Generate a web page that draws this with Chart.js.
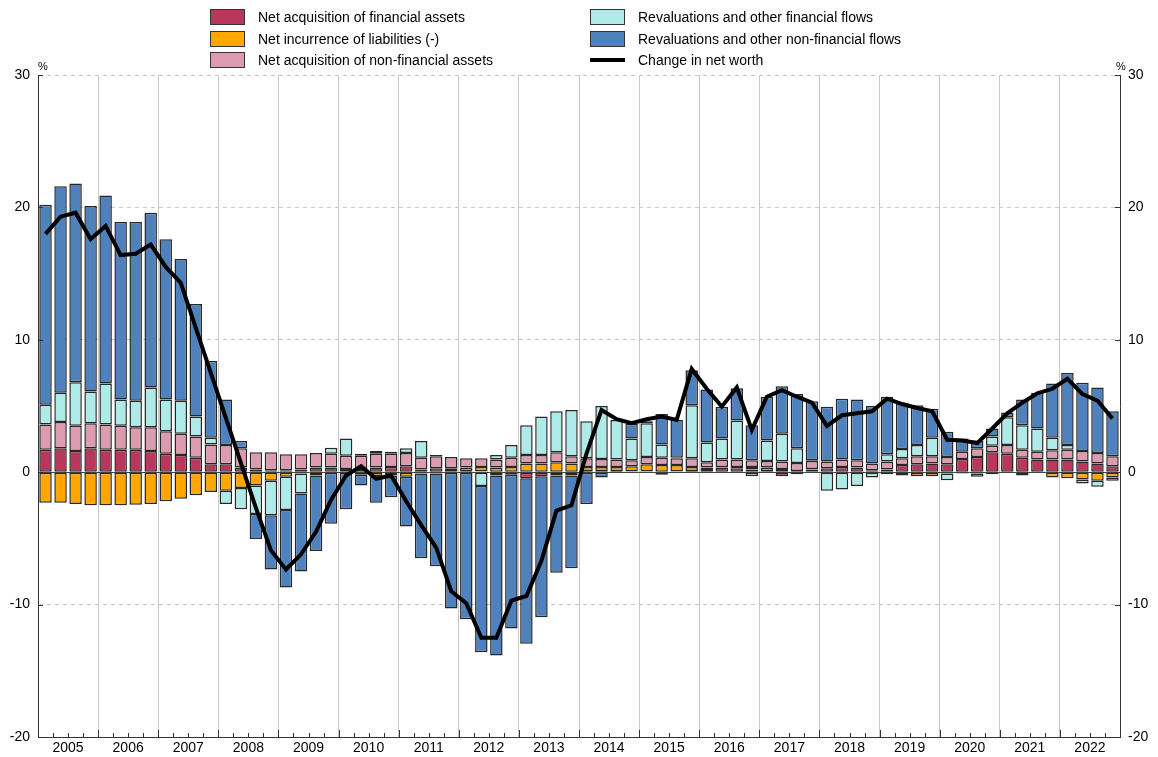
<!DOCTYPE html>
<html>
<head>
<meta charset="utf-8">
<script src="https://cdn.jsdelivr.net/npm/chart.js@4"></script>
<style>
  body { margin: 0; background: #fff; font-family: "Liberation Sans", Arial, sans-serif; }
  #wrap { position: relative; width: 1158px; height: 757px; }
  #legend .item { position: absolute; font-size: 14px; color: #000; white-space: nowrap; line-height: 16px; }
  #legend .sw { position: absolute; left: 0; width: 35px; box-sizing: border-box; }
  #legend .txt { position: absolute; left: 48px; top: 0; }
  .unit { position: absolute; top: 60px; font-size: 11px; color: #000; }
</style>
</head>
<body>
<div id="wrap">
  <canvas id="chart" width="1158" height="757"></canvas>
  <div id="legend"></div>
  <span class="unit" style="left:38px">%</span>
  <span class="unit" style="left:1116px">%</span>
</div>
<script>
const years = ['2005','2006','2007','2008','2009','2010','2011','2012','2013',
  '2014','2015','2016','2017','2018','2019','2020','2021','2022'];
const quarters = years.flatMap(y => ['Q1','Q2','Q3','Q4'].map(q => y + q));

// percent contributions, 2005Q1 .. 2022Q4
const finAssets = [1.7,1.8,1.6,1.8, 1.7,1.7,1.7,1.6, 1.4,1.3,1.1,0.6, 0.6,0.35,0.2,0.15,
  0.15,0.2,0.35,0.35, 0.25,0.25,0.35,0.4, 0.45,0.2,0.3,0.1, 0.1,0.05,-0.25,-0.2,
  -0.45,-0.3,-0.25,-0.25, 0.1,0.1,0.1,0.05, 0.05,-0.2,0.05,0.1, 0.25,0.35,0.3,0.2,
  0.1,-0.3,-0.15,0.2, 0.3,0.4,0.35,0.15, 0.2,0.55,0.6,0.65, 0.6,1.0,1.15,1.5,
  1.4,1.1,0.95,0.95, 0.95,0.8,0.65,0.45];
const liabilities = [-2.3,-2.3,-2.4,-2.5, -2.5,-2.5,-2.45,-2.4, -2.2,-2.0,-1.75,-1.5, -1.4,-1.2,-1.0,-0.65,
  -0.35,-0.1,-0.05,-0.05, -0.05,-0.2,-0.3,-0.25, -0.35,-0.1,-0.1,0.2, 0.25,0.35,0.35,0.4,
  0.65,0.65,0.75,0.65, 0.3,0.3,0.3,0.4, 0.55,0.55,0.5,0.3, 0.1,0.05,0.1,0.2,
  0.25,0.25,0.1,0.05, 0.0,-0.05,-0.05,0.0, -0.15,-0.25,-0.3,-0.3, -0.1,-0.1,-0.1,-0.15,
  -0.05,-0.25,-0.05,-0.4, -0.45,-0.55,-0.65,-0.4];
const nonFinAssets = [1.9,2.0,1.9,1.9, 1.9,1.8,1.7,1.8, 1.7,1.6,1.6,1.5, 1.45,1.45,1.3,1.35,
  1.2,1.15,1.1,1.05, 1.0,1.0,1.05,1.0, 1.0,0.9,0.9,0.85, 0.7,0.65,0.6,0.7,
  0.65,0.65,0.75,0.55, 0.65,0.6,0.55,0.45, 0.55,0.55,0.5,0.65, 0.4,0.55,0.55,0.5,
  0.5,0.55,0.6,0.6, 0.5,0.55,0.55,0.5, 0.6,0.5,0.6,0.55, 0.55,0.55,0.65,0.5,
  0.65,0.6,0.6,0.7, 0.75,0.8,0.8,0.75];
const revalFin = [1.5,2.2,3.3,2.4, 3.1,2.0,2.0,3.0, 2.4,2.5,1.5,0.5, -1.0,-1.6,-2.15,-2.6,
  -2.5,-1.5,-0.2,0.45, 1.3,0.15,0.2,0.15, 0.35,1.25,0.1,0.0, 0.0,-1.05,0.35,0.95,
  2.25,2.9,3.1,3.5, 2.8,4.0,3.0,1.65, 2.55,1.0,0.05,4.0, 1.5,1.6,2.95,-0.3,
  1.55,2.1,1.1,0.05, -1.4,-1.25,-1.0,-0.4, 0.55,0.7,0.85,1.4, -0.5,0.0,-0.25,0.7,
  2.1,1.85,1.75,0.95, 0.35,-0.3,-0.45,-0.25];
const revalNonFin = [15.1,15.6,15.0,14.0, 14.2,13.4,13.5,13.2, 12.1,10.7,8.5,5.8, 3.45,0.55,-1.9,-4.1,
  -5.85,-5.9,-5.7,-3.85, -2.75,-0.8,-2.0,-1.65, -3.75,-6.4,-7.0,-10.3, -11.1,-12.55,-13.6,-11.6,
  -12.5,-10.65,-7.35,-7.0, -2.4,-0.4,0.0,1.1, 0.15,2.3,2.85,2.65, 4.0,2.4,2.45,2.65,
  3.3,3.6,4.1,4.45, 4.15,4.6,4.6,4.35, 4.35,3.5,3.0,2.2, 1.9,1.0,0.6,0.6,
  0.35,1.95,2.7,4.1, 5.45,5.15,4.95,3.4];
const netWorth = [18.0,19.3,19.6,17.6, 18.6,16.4,16.5,17.2, 15.5,14.3,10.9,7.5, 4.1,0.7,-2.7,-5.9,
  -7.35,-6.2,-4.5,-2.1, -0.25,0.45,-0.5,-0.25, -2.2,-4.0,-5.7,-9.0, -9.9,-12.5,-12.5,-9.7,
  -9.35,-6.7,-2.9,-2.5, 1.4,4.7,4.0,3.7, 4.0,4.2,3.95,7.8, 6.3,4.95,6.4,3.2,
  5.7,6.2,5.7,5.25, 3.5,4.3,4.45,4.6, 5.55,5.15,4.85,4.6, 2.45,2.4,2.2,3.3,
  4.45,5.25,5.95,6.3, 7.05,5.9,5.4,4.05];

const barBorder = 'rgba(15,15,15,0.9)';
function barSet(label, data, color) {
  return {
    type: 'bar', label: label, data: data, backgroundColor: color,
    borderColor: barBorder, borderWidth: 1.5, borderSkipped: false,
    barPercentage: 0.83, categoryPercentage: 1.0, order: 1,
    xAxisID: 'x', yAxisID: 'y'
  };
}

// inner tick marks on the axes
const innerTicks = {
  id: 'innerTicks',
  afterDraw(chart) {
    const {ctx, chartArea, scales} = chart;
    const xs = scales.x;
    const step = xs.width / quarters.length;
    ctx.save();
    ctx.strokeStyle = '#333';
    ctx.lineWidth = 1;
    ctx.beginPath();
    for (let i = 0; i <= quarters.length; i++) {
      const x = Math.round(xs.left + i * step) + 0.5;
      const len = i % 4 === 0 ? 7 : 4;
      ctx.moveTo(x, chartArea.bottom);
      ctx.lineTo(x, chartArea.bottom - len);
    }
    scales.y.ticks.forEach(t => {
      const y = Math.round(scales.y.getPixelForValue(t.value)) + 0.5;
      ctx.moveTo(chartArea.left, y); ctx.lineTo(chartArea.left + 5, y);
      ctx.moveTo(chartArea.right, y); ctx.lineTo(chartArea.right - 5, y);
    });
    ctx.stroke();
    ctx.restore();
  }
};

const tickFont = { family: '"Liberation Sans", Arial, sans-serif', size: 14 };

const chart = new Chart(document.getElementById('chart'), {
  data: {
    labels: quarters,
    datasets: [
      barSet('Net acquisition of financial assets', finAssets, '#b8375b'),
      barSet('Net incurrence of liabilities (-)', liabilities, '#ffa600'),
      barSet('Net acquisition of non-financial assets', nonFinAssets, '#dd9bb0'),
      barSet('Revaluations and other financial flows', revalFin, '#aeeae7'),
      barSet('Revaluations and other non-financial flows', revalNonFin, '#4f82bd'),
      {
        type: 'line', label: 'Change in net worth', data: netWorth,
        borderColor: '#000', borderWidth: 4, pointRadius: 0, tension: 0,
        order: 0, xAxisID: 'x', yAxisID: 'y'
      }
    ]
  },
  options: {
    responsive: false,
    animation: false,
    devicePixelRatio: 1,
    layout: { padding: { top: 75, left: 0, right: 0, bottom: 0 } },
    plugins: { legend: { display: false }, tooltip: { enabled: false } },
    scales: {
      x: {
        type: 'category',
        stacked: true,
        offset: true,
        grid: {
          offset: true,
          drawTicks: false,
          color: c => (c.index % 4 === 0 ? '#c8c8c8' : 'rgba(0,0,0,0)'),
          lineWidth: 1
        },
        border: { display: true, color: '#333', width: 1 },
        ticks: {
          autoSkip: false, maxRotation: 0, minRotation: 0,
          padding: 3,
          labelOffset: 7.5,
          font: tickFont, color: '#000',
          callback: (v, i) => (i % 4 === 1 ? years[Math.floor(i / 4)] : '')
        },
        afterFit: s => { s.height = 20; }
      },
      y: {
        position: 'left',
        stacked: true,
        min: -20, max: 30,
        ticks: { stepSize: 10, padding: 8, font: tickFont, color: '#000' },
        grid: {
          drawTicks: false,
          color: c => (c.tick && c.tick.value === 0 ? '#444' : '#c8c8c8'),
          lineWidth: 1
        },
        border: {
          display: true, color: '#333', width: 1,
          dash: c => (c.tick && c.tick.value === 0 ? [] : [4, 4])
        },
        afterFit: s => { s.width = 38; }
      },
      y2: {
        position: 'right',
        min: -20, max: 30,
        ticks: { stepSize: 10, padding: 8, font: tickFont, color: '#000' },
        grid: { drawOnChartArea: false, drawTicks: false },
        border: { display: true, color: '#333', width: 1 },
        afterFit: s => { s.width = 38; }
      }
    }
  },
  plugins: [innerTicks]
});

// two-column legend built from the datasets
const legend = document.getElementById('legend');
chart.data.datasets.forEach((ds, i) => {
  const col = Math.floor(i / 3), row = i % 3;
  const item = document.createElement('div');
  item.className = 'item';
  item.style.left = (col === 0 ? 210 : 590) + 'px';
  item.style.top = (9 + row * 21.5) + 'px';
  const sw = document.createElement('div');
  sw.className = 'sw';
  if (ds.type === 'line') {
    sw.style.top = '6px'; sw.style.height = '4px'; sw.style.background = ds.borderColor;
  } else {
    sw.style.top = '0px'; sw.style.height = '16px'; sw.style.background = ds.backgroundColor;
    sw.style.border = '1.5px solid #333';
  }
  const txt = document.createElement('span');
  txt.className = 'txt';
  txt.textContent = ds.label;
  item.appendChild(sw); item.appendChild(txt);
  legend.appendChild(item);
});
</script>
</body>
</html>
